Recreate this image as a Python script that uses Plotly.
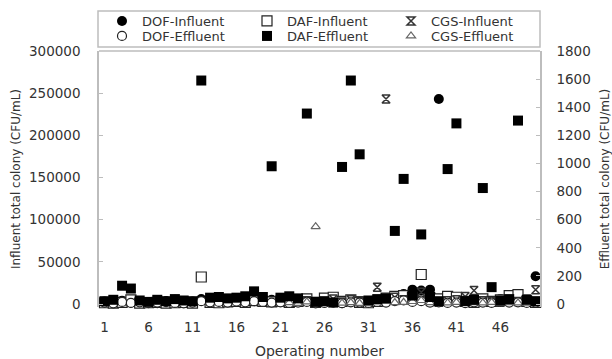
import plotly.graph_objects as go

operating_number = list(range(1, 51))

# Influent series (left axis, CFU/mL)
dof_influent = [3000, 2000, 4000, 1500, 3000, 2500, 1000, 3500, 5000, 2000,
                3000, 6000, 7000, 5000, 6000, 5500, 8000, 9000, 6000, 5000,
                7000, 4000, 6000, 5000, 2000, 1500, 3000, 1000, 2500, 3500,
                2000, 4000, 6000, 9000, 12000, 17000, 16000, 17000, 243000, 3000,
                5000, 2000, 3000, 4000, 2500, 6000, 3000, 7000, 4000, 33000]
daf_influent = [1500, 1000, 2000, 5000, 1000, 1500, 2000, 1000, 1500, 2000,
                1000, 32000, 2000, 1500, 2500, 3000, 2000, 4000, 3000, 2500,
                3500, 2000, 3000, 6000, 2000, 7000, 8000, 3000, 5000, 2000,
                1500, 3000, 7000, 9000, 10000, 8000, 35000, 7000, 6000, 9000,
                8000, 3000, 2000, 6000, 3000, 5000, 10000, 11000, 3000, 2000]
cgs_influent = [None] * 21 + [3000, 5000, 4000, 2000, 3000, 6000, 2500, 5000, 4000,
                              3000, 20000, 243000, 8000, 5000, 6000, 14000, 3000, 2000, 4000,
                              5000, 9000, 16000, 4000, 3000, 2000, 5000, 3000, 6000, 17000]

# Effluent series (right axis, CFU/mL)
dof_effluent = [10, 5, 15, 8, 12, 6, 10, 14, 8, 5,
                10, 20, 12, 15, 10, 18, 12, 20, 15, 10,
                12, 8, 10, 15, 5, 8, 10, 6, 12, 10,
                8, 15, 10, 20, 25, 15, 20, 10, 12, 8,
                10, 6, 12, 10, 8, 15, 10, 12, 8, 10]
daf_effluent = [20, 30, 130, 110, 25, 15, 30, 20, 35, 25,
                20, 1590, 45, 50, 40, 45, 55, 90, 50, 980,
                45, 55, 40, 1355, 15, 20, 10, 975, 1590, 1065,
                25, 35, 40, 520, 890, 60, 495, 50, 20, 960,
                1285, 20, 30, 825, 120, 25, 35, 1305, 30, 20]
cgs_effluent = [None] * 21 + [10, 5, 15, 550, 8, 12, 6, 10, 5,
                              8, 15, 20, 10, 12, 18, 25, 10, 5, 8,
                              12, 6, 10, 8, 12, 5, 10, 8, 6, 15]

# drawing order: hollow effluent marks underneath, filled marks, then hollow influent marks on top
series = [
    ("DOF-Effluent", dof_effluent, "y2", dict(symbol="circle", size=9, color="white",
                                               line=dict(color="#222", width=1.2)), "legend2"),
    ("CGS-Effluent", cgs_effluent, "y2", dict(symbol="triangle-up-open", size=8, color="#666",
                                               line=dict(color="#666", width=1.2)), "legend6"),
    ("DOF-Influent", dof_influent, "y", dict(symbol="circle", size=10, color="black"), "legend"),
    ("DAF-Effluent", daf_effluent, "y2", dict(symbol="square", size=10, color="black"), "legend4"),
    ("DAF-Influent", daf_influent, "y", dict(symbol="square", size=10, color="white",
                                              line=dict(color="#222", width=1.2)), "legend3"),
    ("CGS-Influent", cgs_influent, "y", dict(symbol="hourglass-open", size=8, color="#333",
                                              line=dict(color="#333", width=1.5)), "legend5"),
]

fig = go.Figure()
for name, vals, yax, marker, leg in series:
    fig.add_trace(go.Scatter(x=operating_number, y=vals, name=name, mode="markers",
                             yaxis=yax, marker=marker, legend=leg, cliponaxis=False))

W, H = 612, 359
L, R, T, B = 99, 72, 51, 52
pw, ph = W - L - R, H - T - B

def px(x):
    return (x - L) / pw

def py(y):
    return (H - B - y) / ph

legend_font = dict(family="DejaVu Sans", size=13, color="#333")
leg_common = dict(bgcolor="rgba(0,0,0,0)", borderwidth=0, font=legend_font,
                  xanchor="left", yanchor="middle", itemwidth=30)
col_x = [102, 247, 391]
row_y = [21, 36]
legends = {}
names = ["legend", "legend3", "legend5", "legend2", "legend4", "legend6"]
k = 0
for r in range(2):
    for c in range(3):
        legends[names[k]] = dict(leg_common, x=px(col_x[c]), y=py(row_y[r]))
        k += 1

axis_line = "#bdbdbd"
tick_font = dict(family="DejaVu Sans", size=13.5, color="#333")

fig.update_layout(
    width=W, height=H,
    margin=dict(l=L, r=R, t=T, b=B, autoexpand=False),
    paper_bgcolor="white", plot_bgcolor="white",
    font=dict(family="DejaVu Sans", color="#333"),
    xaxis=dict(range=[0.375, 50.5], tickmode="linear", tick0=1, dtick=5,
               showgrid=False, zeroline=False, showline=False, ticks="",
               tickfont=tick_font, ticklabelstandoff=10,
               title=dict(text="Operating number", font=dict(family="DejaVu Sans", size=14, color="#333"),
                          standoff=12)),
    yaxis=dict(range=[-3557, 300000], tickmode="linear", tick0=0, dtick=50000, tickformat="d",
               showgrid=False, zeroline=False, showline=True, linecolor=axis_line, linewidth=1.5,
               ticks="inside", ticklen=4, tickcolor=axis_line, tickfont=tick_font,
               ticklabelstandoff=14,
               title=dict(text="Influent total colony (CFU/mL)",
                          font=dict(family="DejaVu Sans", size=12, color="#333"), standoff=6)),
    yaxis2=dict(range=[-21.3, 1800], tickmode="linear", tick0=0, dtick=200, tickformat="d",
                overlaying="y",
                side="right", showgrid=False, zeroline=False, showline=True, linecolor=axis_line,
                linewidth=1.5, ticks="inside", ticklen=4, tickcolor=axis_line, tickfont=tick_font,
                ticklabelstandoff=12,
                title=dict(text="Effluent total colony (CFU/mL)",
                           font=dict(family="DejaVu Sans", size=12, color="#333"), standoff=12)),
    showlegend=True,
    shapes=[
        dict(type="line", xref="paper", yref="paper", x0=0, x1=1, y0=1, y1=1,
             line=dict(color=axis_line, width=1.5)),
        dict(type="rect", xref="paper", yref="paper", x0=px(98), x1=1, y0=py(47), y1=py(11),
             line=dict(color=axis_line, width=1.5)),
    ],
    **legends,
)

fig.write_html("out.html")
